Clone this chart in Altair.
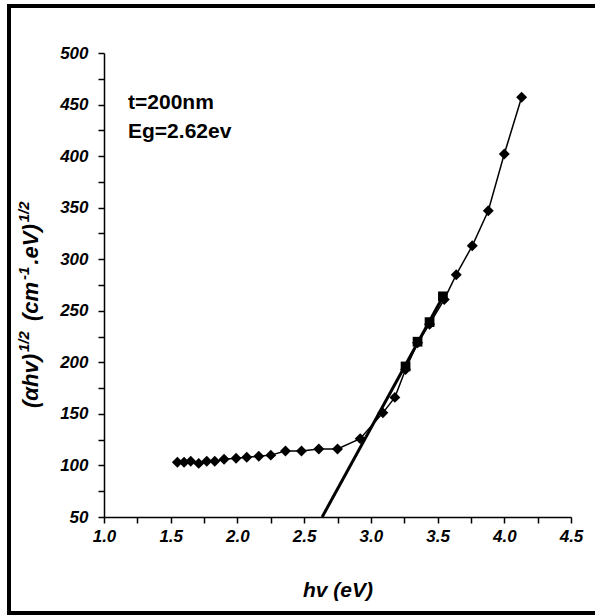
import altair as alt
import pandas as pd

# ---- data ----
hv = [1.55, 1.60, 1.65, 1.71, 1.77, 1.83, 1.90, 1.99, 2.07, 2.16, 2.25, 2.36, 2.48, 2.61,
      2.75, 2.92, 3.09, 3.18, 3.26, 3.35, 3.44, 3.55, 3.64, 3.76, 3.88, 4.00, 4.13]
ahv = [103, 103, 104, 102, 104, 104, 106, 107, 108, 109, 110, 114, 114, 116,
       116, 126, 151, 166, 193, 219, 237, 261, 285, 313, 347, 402, 457]
fit_pts_hv = [3.26, 3.35, 3.44, 3.54]
fit_pts_y = [196, 220, 239, 264]
fit_line_hv = [2.635, 3.55]
fit_line_y = [50, 266]
notes = ["t=200nm", "Eg=2.62ev"]
notes_hv = [1.18, 1.18]
notes_y = [446, 418]
x_ticks = [1.0 + 0.25 * k for k in range(15)]
y_ticks = [50 + 25 * k for k in range(19)]

FONT = "Liberation Sans"

xscale = alt.Scale(domain=[1.0, 4.5], nice=False, zero=False)
yscale = alt.Scale(domain=[50, 500], nice=False, zero=False)

xaxis = alt.Axis(values=x_ticks, grid=False, labelOverlap=False, labelFlush=False,
                 labelExpr="abs(datum.value*2 - round(datum.value*2)) < 0.01 ? format(datum.value, '.1f') : ''",
                 labelFont=FONT, labelFontSize=17, labelFontWeight="bold", labelFontStyle="italic",
                 labelColor="black", labelPadding=5, tickSize=6, tickColor="black", tickWidth=1.5,
                 domainColor="black", domainWidth=1.5,
                 title="hv (eV)", titleFont=FONT, titleFontSize=21, titleFontWeight="bold",
                 titleFontStyle="italic", titleColor="black", titlePadding=35)
yaxis = alt.Axis(values=y_ticks, grid=False, labelOverlap=False, labelFlush=False,
                 labelExpr="datum.value % 50 == 0 ? format(datum.value, 'd') : ''",
                 labelFont=FONT, labelFontSize=17, labelFontWeight="bold", labelFontStyle="italic",
                 labelColor="black", labelPadding=10, tickSize=6, tickColor="black", tickWidth=1.5,
                 domainColor="black", domainWidth=1.5, title=None)


def X(field):
    return alt.X(field, type="quantitative", scale=xscale, axis=xaxis)


def Y(field):
    return alt.Y(field, type="quantitative", scale=yscale, axis=yaxis)


df = pd.DataFrame({"hv": hv, "y": ahv, "i": list(range(len(hv)))})
df_fitp = pd.DataFrame({"hv": fit_pts_hv, "y": fit_pts_y})
df_fitl = pd.DataFrame({"hv": fit_line_hv, "y": fit_line_y})
df_notes = pd.DataFrame({"hv": notes_hv, "y": notes_y, "t": notes})

line = alt.Chart(df).mark_line(color="black", strokeWidth=1.5).encode(
    x=X("hv"), y=Y("y"), order="i:Q")
pts = alt.Chart(df).mark_point(shape="diamond", filled=True, size=120, color="black", opacity=1).encode(
    x=X("hv"), y=Y("y"))
fitl = alt.Chart(df_fitl).mark_line(color="black", strokeWidth=3).encode(x=X("hv"), y=Y("y"))
fitp = alt.Chart(df_fitp).mark_point(shape="square", filled=True, size=95, color="black", opacity=1).encode(
    x=X("hv"), y=Y("y"))
txt = alt.Chart(df_notes).mark_text(align="left", baseline="alphabetic", font=FONT, fontSize=21,
                                    fontWeight="bold", color="black").encode(
    x=X("hv"), y=Y("y"), text="t:N")

# ---- y-axis title built from pieces (for superscripts) ----
F, f = 22, 15
W = {"(": .333, ")": .333, "α": .62, "h": .611, "v": .556, "1": .556, "/": .278, "2": .556,
     " ": .278, "c": .556, "m": .889, "-": .333, ".": .278, "e": .556, "V": .667}
pieces = [("(αhv)", False), ("1/2", True), (" ", False), ("(cm", False), ("-1", True),
          (".eV)", False), ("1/2", True)]
base_x = 38 - 104      # baseline (screen x=38) relative to plot origin
pos = 408 - 53         # starting y (screen 408) relative to plot origin
rows = []
for s, sup in pieces:
    fs = f if sup else F
    rows.append({"s": s, "px": base_x - (9 if sup else 0), "py": pos, "fs": fs})
    pos -= sum(W.get(ch, .556) for ch in s) * fs + 2
df_yt = pd.DataFrame(rows)
ytitle = alt.Chart(df_yt).mark_text(align="left", baseline="alphabetic", angle=270, font=FONT,
                                    fontWeight="bold", fontStyle="italic", color="black").encode(
    x=alt.X("px:Q", scale=None), y=alt.Y("py:Q", scale=None),
    text="s:N", size=alt.Size("fs:Q", scale=None, legend=None))

frame = alt.Chart(pd.DataFrame({"a": [0]})).mark_rect(filled=False, stroke="black", strokeWidth=4).encode(
    x=alt.value(-95), x2=alt.value(500), y=alt.value(-47), y2=alt.value(560))

chart = alt.layer(line, pts, fitl, fitp, txt, ytitle, frame).properties(
    width=467, height=464,
    padding={"left": 104, "top": 53, "right": 24, "bottom": 98},
    autosize=alt.AutoSizeParams(type="none"),
    background="white",
).configure_view(stroke=None)

chart.save("out.html", embed_options={"renderer": "svg", "actions": False})
